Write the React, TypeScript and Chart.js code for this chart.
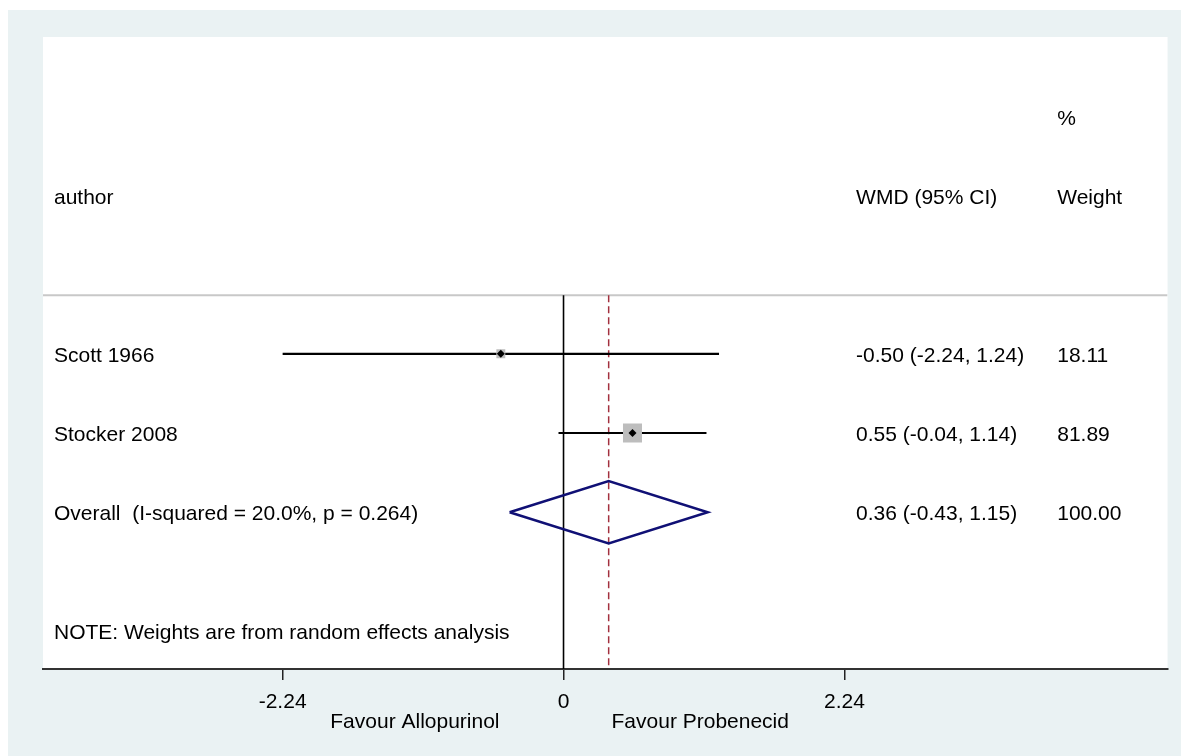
import React, { useEffect, useRef } from 'react';
import { Chart, registerables } from 'chart.js';

Chart.register(...registerables);

// ---- data ----
const studyLabels = ['Scott 1966', 'Stocker 2008'];
const studyEstimates = [-0.5, 0.55];
const studyLower = [-2.24, -0.04];
const studyUpper = [1.24, 1.14];
const studyWeights = [18.11, 81.89];

const overallLabel = 'Overall  (I-squared = 20.0%, p = 0.264)';
const overallEstimate = [0.36];
const overallLower = [-0.43];
const overallUpper = [1.15];
const overallWeight = [100.0];

const xTickValues = [-2.24, 0, 2.24];
const headerAuthor = 'author';
const headerEffect = 'WMD (95% CI)';
const headerWeightTop = '%';
const headerWeight = 'Weight';
const noteText = 'NOTE: Weights are from random effects analysis';
const favourLeft = 'Favour Allopurinol';
const favourRight = 'Favour Probenecid';

// ---- layout ----
const W = 1173;
const H = 746;
const X_MIN = -4.151;
const X_MAX = 4.817;
const Y_MAX = 7.98;
const ROW_PCT = 1.02;
const ROW_HEADER = 2.02;
const ROW_SEP = 3.26;
const ROW_FIRST = 4;
const ROW_NOTE = 7.51;
const COL_EFFECT = 2.333;
const COL_WEIGHT = 3.937;
const DIAMOND_HALF = 0.394;
const FONT_FAMILY = '"Liberation Sans", Arial, Helvetica, sans-serif';
const FONT_SIZE = 21;
const TEXT_COLOR = '#000000';

const fmt = (v: number) => v.toFixed(2);

const bgPlugin = {
  id: 'bgPlugin',
  beforeDraw(chart: any) {
    const { ctx, chartArea } = chart;
    ctx.save();
    ctx.fillStyle = '#eaf2f3';
    ctx.fillRect(0, 0, chart.width, chart.height);
    ctx.fillStyle = '#ffffff';
    ctx.fillRect(chartArea.left, chartArea.top, chartArea.right - chartArea.left, chartArea.bottom - chartArea.top);
    ctx.restore();
  },
};

const textPlugin = {
  id: 'textPlugin',
  afterDatasetsDraw(chart: any) {
    const { ctx, chartArea } = chart;
    const xs = chart.scales.x;
    const ys = chart.scales.y;
    ctx.save();
    ctx.font = `${FONT_SIZE}px ${FONT_FAMILY}`;
    ctx.fillStyle = TEXT_COLOR;
    ctx.textBaseline = 'middle';
    ctx.textAlign = 'left';
    const labelX = chartArea.left + 11;
    const effX = xs.getPixelForValue(COL_EFFECT);
    const wX = xs.getPixelForValue(COL_WEIGHT);

    ctx.fillText(headerWeightTop, wX, ys.getPixelForValue(ROW_PCT) + 1);
    ctx.fillText(headerAuthor, labelX, ys.getPixelForValue(ROW_HEADER) + 1);
    ctx.fillText(headerEffect, effX, ys.getPixelForValue(ROW_HEADER) + 1);
    ctx.fillText(headerWeight, wX, ys.getPixelForValue(ROW_HEADER) + 1);

    studyLabels.forEach((lab, i) => {
      const py = ys.getPixelForValue(ROW_FIRST + i) + 2;
      ctx.fillText(lab, labelX, py);
      ctx.fillText(`${fmt(studyEstimates[i])} (${fmt(studyLower[i])}, ${fmt(studyUpper[i])})`, effX, py);
      ctx.fillText(fmt(studyWeights[i]), wX, py);
    });
    const oy = ys.getPixelForValue(ROW_FIRST + studyLabels.length) + 2;
    ctx.fillText(overallLabel, labelX, oy);
    ctx.fillText(`${fmt(overallEstimate[0])} (${fmt(overallLower[0])}, ${fmt(overallUpper[0])})`, effX, oy);
    ctx.fillText(fmt(overallWeight[0]), wX, oy);

    ctx.fillText(noteText, labelX, ys.getPixelForValue(ROW_NOTE) + 1);

    const x0 = xs.getPixelForValue(0);
    const fy = chartArea.bottom + 53;
    ctx.textAlign = 'right';
    ctx.fillText(favourLeft, x0 - 64, fy);
    ctx.textAlign = 'left';
    ctx.fillText(favourRight, x0 + 48, fy);
    ctx.restore();
  },
};

export default function App() {
  const ref = useRef<HTMLCanvasElement | null>(null);

  useEffect(() => {
    if (!ref.current) return;
    const overallRow = ROW_FIRST + studyLabels.length;
    const lineBase = { showLine: true, pointRadius: 0, fill: false, tension: 0 };

    const ciSets = studyLabels.map((lab, i) => ({
      ...lineBase,
      label: lab + ' CI',
      data: [
        { x: studyLower[i], y: ROW_FIRST + i },
        { x: studyUpper[i], y: ROW_FIRST + i },
      ],
      borderColor: '#000000',
      borderWidth: 2.2,
      order: 2,
    }));

    const datasets: any[] = [
      {
        label: 'estimates',
        data: studyEstimates.map((e, i) => ({ x: e, y: ROW_FIRST + i })),
        pointStyle: 'rectRot',
        pointRadius: 4,
        backgroundColor: '#000000',
        borderWidth: 0,
        showLine: false,
        order: 0,
      },
      {
        label: 'weights',
        data: studyEstimates.map((e, i) => ({ x: e, y: ROW_FIRST + i })),
        pointStyle: 'rect',
        pointRadius: studyWeights.map((w) => 1.485 * Math.sqrt(w)),
        backgroundColor: '#bdbdbd',
        borderWidth: 0,
        showLine: false,
        order: 1,
      },
      ...ciSets,
      {
        ...lineBase,
        label: 'overall',
        data: [
          { x: overallLower[0], y: overallRow },
          { x: overallEstimate[0], y: overallRow - DIAMOND_HALF },
          { x: overallUpper[0], y: overallRow },
          { x: overallEstimate[0], y: overallRow + DIAMOND_HALF },
          { x: overallLower[0], y: overallRow },
        ],
        borderColor: '#101075',
        borderWidth: 2.5,
        order: 3,
      },
      {
        ...lineBase,
        label: 'overall line',
        data: [
          { x: overallEstimate[0], y: ROW_SEP },
          { x: overallEstimate[0], y: Y_MAX },
        ],
        borderColor: '#a3303e',
        borderWidth: 1.5,
        borderDash: [7, 4],
        order: 4,
      },
      {
        ...lineBase,
        label: 'null line',
        data: [
          { x: 0, y: ROW_SEP },
          { x: 0, y: Y_MAX },
        ],
        borderColor: '#000000',
        borderWidth: 1.6,
        order: 5,
      },
      {
        ...lineBase,
        label: 'separator',
        data: [
          { x: X_MIN, y: ROW_SEP },
          { x: X_MAX, y: ROW_SEP },
        ],
        borderColor: '#c8c8c8',
        borderWidth: 2,
        order: 6,
      },
    ];

    const chart = new Chart(ref.current, {
      type: 'scatter',
      data: { datasets },
      options: {
        animation: false,
        responsive: false,
        maintainAspectRatio: false,
        events: [],
        layout: { padding: { left: 35, right: 13, top: 27, bottom: 0 } },
        plugins: { legend: { display: false }, tooltip: { enabled: false } },
        scales: {
          x: {
            type: 'linear',
            min: X_MIN,
            max: X_MAX,
            afterBuildTicks: (s: any) => {
              s.ticks = xTickValues.map((v) => ({ value: v }));
            },
            afterFit: (s: any) => {
              s.height = 87;
            },
            ticks: {
              color: TEXT_COLOR,
              font: { family: FONT_FAMILY, size: FONT_SIZE },
              padding: 10,
              maxRotation: 0,
              autoSkip: false,
              callback: (v: any) => String(v),
            },
            grid: { drawOnChartArea: false, drawTicks: true, tickLength: 11, color: '#222222', lineWidth: 1.5 },
            border: { display: true, color: '#333333', width: 2 },
          },
          y: { type: 'linear', min: 0, max: Y_MAX, reverse: true, display: false },
        },
      } as any,
      plugins: [bgPlugin, textPlugin],
    });
    return () => chart.destroy();
  }, []);

  return (
    <div style={{ position: 'absolute', left: 8, top: 10, width: W, height: H }}>
      <canvas ref={ref} width={W} height={H} style={{ width: W, height: H, display: 'block' }} />
    </div>
  );
}
